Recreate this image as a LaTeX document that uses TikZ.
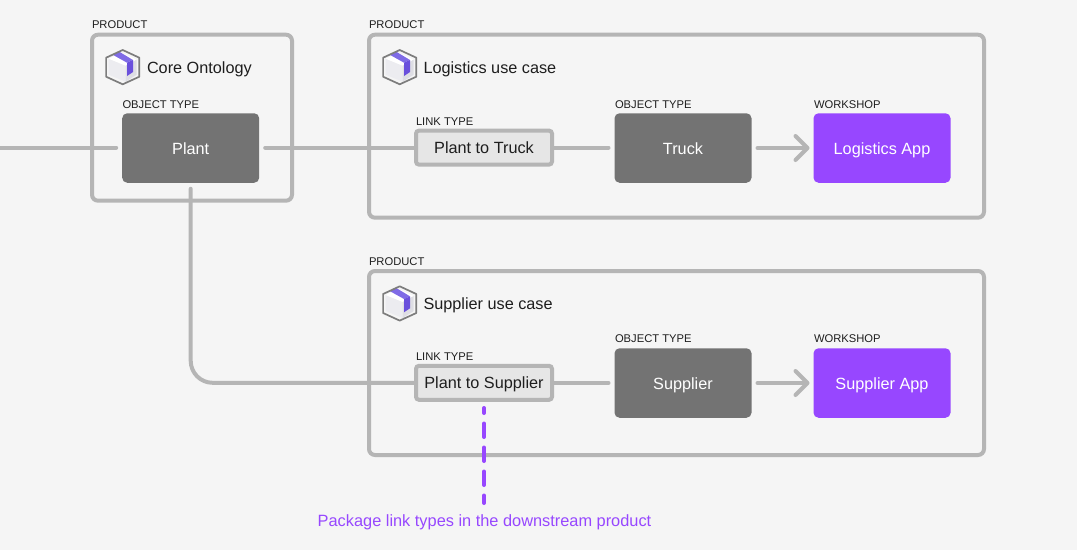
\documentclass[tikz,border=0pt]{standalone}
\usepackage{fontspec}
\setmainfont{Liberation Sans}
\usetikzlibrary{arrows.meta}
\definecolor{bgc}{HTML}{F5F5F5}
\definecolor{linec}{HTML}{B5B5B5}
\definecolor{darkbox}{HTML}{737373}
\definecolor{linkfill}{HTML}{E6E6E6}
\definecolor{purp}{HTML}{9747FF}
\definecolor{inkc}{HTML}{1E1E1E}
\definecolor{strapa}{HTML}{7F6BE6}
\definecolor{strapb}{HTML}{6A50DC}
\definecolor{hexline}{HTML}{7D7D7D}
\definecolor{faceleft}{HTML}{ECECF0}
\definecolor{faceright}{HTML}{DEDEE4}
\tikzset{
  every node/.style={inner sep=0pt,outer sep=0pt},
  group/.style={draw=linec,line width=4pt,rounded corners=6pt,fill=bgc,anchor=north west},
  boxtext/.style={text height=14pt,text depth=2pt,font=\fontsize{16.25}{18}\selectfont},
  objbox/.style={boxtext,fill=darkbox,rounded corners=5pt,minimum width=137pt,minimum height=69.5pt,text=white},
  appbox/.style={boxtext,fill=purp,rounded corners=5pt,minimum width=137pt,minimum height=69.5pt,text=white},
  linkbox/.style={boxtext,draw=linec,line width=4pt,fill=linkfill,rounded corners=3pt,minimum width=136pt,minimum height=34pt,text=inkc},
  tag/.style={anchor=base west,text=inkc,font=\fontsize{11.2}{12}\selectfont},
  title/.style={anchor=base west,text=inkc,font=\fontsize{16.25}{18}\selectfont},
  conn/.style={draw=linec,line width=4pt,line cap=round},
  arrowconn/.style={conn,shorten <=6pt,shorten >=4pt,-{Straight Barb[length=12pt,width=24pt,line width=4pt,round]}},
  pkg/.pic={
    \fill[bgc] (0,-16.7) -- (16.6,-9) -- (16.6,10) -- (0,17.6) -- (-16.6,10) -- (-16.6,-9) -- cycle;
    \fill[faceleft] (-14,-8) -- (3,-1) -- (3,15) -- (-14,8) -- cycle;
    \fill[white] (-14,-8) -- (-1,-14) -- (14,-7) -- (3,-1) -- cycle;
    \fill[faceright] (3,-1) -- (14,-7) -- (14,8) -- (3,15) -- cycle;
    \fill[strapa] (-10,-12) -- (-3.5,-15) -- (10.3,-6.7) -- (4.3,-4) -- cycle;
    \fill[strapb] (4.3,-4) -- (10.3,-6.7) -- (10.3,5.3) -- (4.3,9.3) -- cycle;
    \draw[draw=hexline,line width=1.7pt,line join=round] (0,-16.7) -- (16.6,-9) -- (16.6,10) -- (0,17.6) -- (-16.6,10) -- (-16.6,-9) -- cycle;
  }
}
\begin{document}
\begin{tikzpicture}[x=1pt,y=-1pt]
\useasboundingbox[fill=bgc] (0,0) rectangle (1077,550);
% groups
\node[group,minimum width=200pt,minimum height=166pt] (core) at (92,34.7) {};
\node[group,minimum width=615pt,minimum height=183pt] (logi) at (369,34.7) {};
\node[group,minimum width=615pt,minimum height=184pt] (supp) at (369,271) {};
% small labels
\node[tag] (t1) at (92,28.5) {PRODUCT};
\node[tag] (t2) at (369,28.5) {PRODUCT};
\node[tag] (t3) at (369,265.5) {PRODUCT};
\node[tag] (t4) at (122.5,108) {OBJECT TYPE};
\node[tag] (t5) at (416,125) {LINK TYPE};
\node[tag] (t6) at (615,108) {OBJECT TYPE};
\node[tag] (t7) at (814,108) {WORKSHOP};
\node[tag] (t8) at (416,360) {LINK TYPE};
\node[tag] (t9) at (615,342) {OBJECT TYPE};
\node[tag] (t10) at (814,342) {WORKSHOP};
% icons
\pic at (122.7,66.7) {pkg};
\pic at (399.7,66.7) {pkg};
\pic at (399.7,303) {pkg};
% titles
\node[title] (c1) at (147,73.5) {Core Ontology};
\node[title] (c2) at (423.5,73.5) {Logistics use case};
\node[title] (c3) at (423.5,309.5) {Supplier use case};
% boxes
\node[objbox] (plant) at (190.7,148) {Plant};
\node[linkbox] (ptt) at (484,147.6) {Plant to Truck};
\node[objbox] (truck) at (683,148) {Truck};
\node[appbox] (lapp) at (882,148) {Logistics App};
\node[linkbox] (pts) at (484,382.8) {Plant to Supplier};
\node[objbox] (sup) at (683,383) {Supplier};
\node[appbox] (sapp) at (882,383) {Supplier App};
\coordinate (west) at (-5,147.6);
\coordinate (dashend) at (484,503);
\node[anchor=base,text=purp,font=\fontsize{16.35}{18}\selectfont] (note) at (484.5,526.5) {Package link types in the downstream product};
% connectors
\draw[conn,shorten >=6pt] (west) -- (plant.west |- west);
\draw[conn,shorten <=6pt] (plant.east |- ptt.west) -- (ptt.west);
\draw[conn,shorten >=6pt] (ptt.east) -- (truck.west |- ptt.east);
\draw[arrowconn] (truck.east) -- (lapp.west);
\draw[conn,shorten <=6pt,rounded corners=22pt] (plant.south) |- (pts.west);
\draw[conn,shorten >=6pt] (pts.east) -- (sup.west |- pts.east);
\draw[arrowconn] (sup.east) -- (sapp.west);
\draw[draw=purp,line width=4pt,line cap=round,dash pattern=on 13.5pt off 10.5pt,dash phase=8.5pt,shorten <=8.2pt] (pts.south) -- (dashend);
\end{tikzpicture}
\end{document}
